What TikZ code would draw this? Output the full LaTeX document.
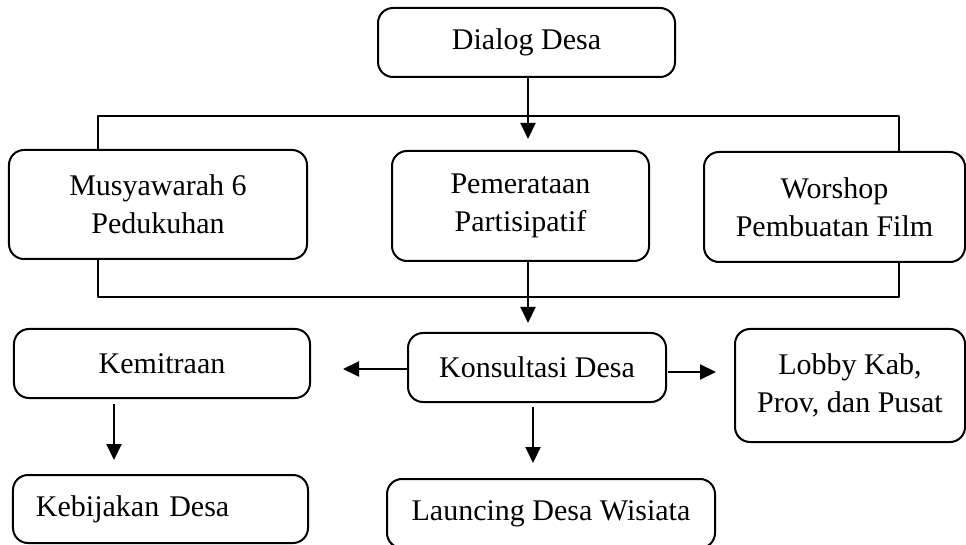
\documentclass[tikz,border=0pt]{standalone}
\usepackage{fontspec}
\setmainfont{Liberation Serif}
\usepackage{tikz}
\usetikzlibrary{arrows.meta,calc}

\begin{document}
\begin{tikzpicture}[x=0.4pt,y=-0.4pt,>={Triangle[length=6.4pt,width=6pt]},line join=round,line width=0.8pt,
  kotak/.style={draw,rounded corners=6pt,align=center,inner sep=0pt,font=\fontsize{12}{15.2}\selectfont}]
  \useasboundingbox (0,0) rectangle (966,545);
  % boxes
  \node[kotak,minimum width=118.8pt,minimum height=27.6pt] (dialog) at (526.5,42.5) {Dialog Desa};
  \node[kotak,minimum width=119.2pt,minimum height=43.6pt] (musy) at (158,204.5) {Musyawarah 6\\Pedukuhan};
  \node[kotak,minimum width=102.8pt,minimum height=44pt] (pemer) at (520.5,206) {Pemerataan\\Partisipatif};
  \node[kotak,minimum width=104.4pt,minimum height=44pt] (worshop) at (834.5,207) {Worshop\\Pembuatan Film};
  \node[kotak,minimum width=118.4pt,minimum height=27.6pt] (mitra) at (162,363.5) {Kemitraan};
  \node[kotak,minimum width=103.2pt,minimum height=27.6pt] (konsul) at (537,367.5) {Konsultasi Desa};
  \node[kotak,minimum width=92pt,minimum height=45.2pt] (lobby) at (850,385.5) {Lobby Kab,\\Prov, dan Pusat};
  \node[kotak,minimum width=118pt,minimum height=27.2pt,text width=99.6pt,inner xsep=9.2pt,align=left] (bijak) at (160.5,509) {Kebijakan Desa};
  \node[kotak,minimum width=131.2pt,minimum height=27.6pt] (launch) at (551,513.5) {Launcing Desa Wisiata};
  % free ends
  \coordinate (TL) at (98,116);
  \coordinate (TR) at (899,116);
  \coordinate (BL) at (98,297.5);
  \coordinate (BR) at (899,297.5);
  \coordinate (A1) at (528,139);
  \coordinate (A2) at (528,323);
  \coordinate (A3) at (343,369);
  \coordinate (A4) at (716,372);
  \coordinate (A5) at (533,463);
  \coordinate (A6) at (114,460);
  % connectors
  \draw (TL |- musy.north) -- (TL) -- (TR) -- (TR |- worshop.north);
  \draw (BL |- musy.south) -- (BL) -- (BR) -- (BR |- worshop.south);
  \draw[->] (A1 |- dialog.south) -- (A1);
  \draw[->] (A2 |- pemer.south) -- (A2);
  \draw[->] (konsul.west |- A3) -- (A3);
  \draw[->] ($(konsul.east |- A4)+(1,0)$) -- (A4);
  \draw[->] ($(A5 |- konsul.south)+(0,4)$) -- (A5);
  \draw[->] ($(A6 |- mitra.south)+(0,5)$) -- (A6);
\end{tikzpicture}
\end{document}
